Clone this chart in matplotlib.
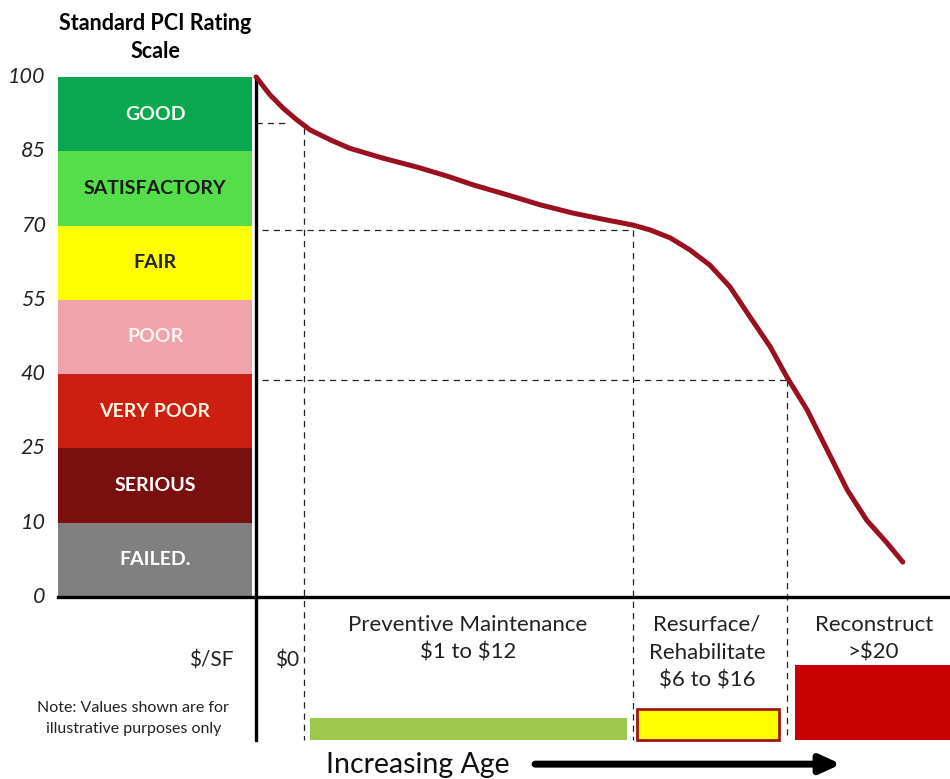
import numpy as np
import matplotlib
matplotlib.use("Agg")
import matplotlib.pyplot as plt

plt.rcParams['font.family'] = ['Lato', 'DejaVu Sans']
plt.rcParams['text.parse_math'] = False

# PCI rating bands (bottom to top)
band_labels = ["FAILED.", "SERIOUS", "VERY POOR", "POOR", "FAIR", "SATISFACTORY", "GOOD"]
band_colors = ["#808080", "#7a0f10", "#cc1f12", "#f0a3aa", "#ffff00", "#55dd4c", "#0aa751"]
band_text_colors = ["white", "white", "#fff5e0", "#fff4f4", "#222222", "#1a1a1a", "#f4fff4"]
pci_ticks = [0, 10, 25, 40, 55, 70, 85, 100]

# deterioration curve: age (relative units) vs PCI
age = [0, 2.0, 3.9, 5.9, 7.8, 10.7, 13.5, 18.3, 23.2, 27.5, 31.3, 36.2, 40.9,
       45.7, 50.6, 54.3, 56.8, 59.7, 62.5, 65.4, 68.3, 71.2, 74.1, 76.5, 79.4,
       82.3, 85.2, 88.0, 90.9, 93.2]
pci = [100, 96.4, 93.7, 91.3, 89.3, 87.3, 85.6, 83.6, 81.8, 80.0, 78.2, 76.2,
       74.2, 72.5, 71.1, 70.1, 69.1, 67.5, 65.1, 62.0, 57.6, 51.5, 45.5, 39.4,
       32.8, 24.7, 16.6, 10.5, 7.3, 4.7]

# treatment windows
break_age = [6.9, 54.3, 76.5]
break_pci = [90.7, 69.1, 38.8]
break_pci_vert = [89.7, 69.1, 38.8]
hline_end = [4.2, 54.3, 76.5]

stage_labels = ["Preventive Maintenance\n$1 to $12",
                "Resurface/\nRehabilitate\n$6 to $16",
                "Reconstruct\n>$20"]
stage_left = [7.8, 54.9, 77.7]
stage_right = [53.5, 75.4, 100]
stage_cost_height = [0.296, 0.417, 1.01]
stage_fill = ["#9dc84c", "#ffff00", "#c90000"]
stage_edge = ["#9dc84c", "#a01818", "#c90000"]


def to_band(v):
    # the bands are drawn the same height, so the PCI scale is piecewise
    return np.interp(v, pci_ticks, np.arange(len(pci_ticks)))


fig = plt.figure(figsize=(9.5, 7.79), dpi=100)
ax = fig.add_axes([0, 0, 1, 1])
ax.set_xlim(-36.9, 100)
ax.set_ylim(-2.45, 8.036)
ax.axis("off")

# rating scale bars
ax.bar([-14.55] * len(band_labels), [1] * len(band_labels), width=27.9,
       bottom=np.arange(len(band_labels)), color=band_colors, zorder=1)
for i, (lab, tc) in enumerate(zip(band_labels, band_text_colors)):
    ax.text(-14.55, i + 0.5, lab, ha="center", va="center", color=tc,
            fontsize=14, fontweight="bold")
for i, t in enumerate(pci_ticks):
    ax.text(-30.3, i, str(t), ha="right", va="center", fontsize=15.5,
            style="italic", color="#222222")
ax.text(-14.55, 7.53, "Standard PCI Rating\nScale", ha="center", va="center",
        fontsize=15.5, fontweight="bold", linespacing=1.44)

# axes lines
ax.plot([0, 0], [7, -1.925], color="black", lw=2.4, zorder=4)
ax.plot([-28.5, 100], [0, 0], color="black", lw=2.4, zorder=4)

# dashed guide lines
for i in range(3):
    x0 = 0.9 if i else 0
    ax.plot([x0, hline_end[i]], [to_band(break_pci[i])] * 2, color="#222222",
            lw=0.9, ls=(0, (5, 4)), zorder=2)
    ax.plot([break_age[i]] * 2, [to_band(break_pci_vert[i]), -1.925],
            color="#222222", lw=0.9, ls=(0, (5, 4)), zorder=2)

# curve
ax.plot(age, to_band(pci), color="#9b1020", lw=3.6, solid_capstyle="round",
        solid_joinstyle="round", zorder=5)

# cost bars
for l, r, h, fc, ec in zip(stage_left, stage_right, stage_cost_height,
                           stage_fill, stage_edge):
    ax.bar((l + r) / 2, h, width=r - l, bottom=-1.925, color=fc,
           edgecolor=ec, linewidth=2 if ec != fc else 0, zorder=3)

label_x = [30.5, 65.0, 89.0]
for x, lab in zip(label_x, stage_labels):
    ax.text(x, -0.24, lab, ha="center", va="top", fontsize=16,
            color="#222222", linespacing=1.5, zorder=6)

ax.text(-3.3, -0.85, "$/SF", ha="right", va="center", fontsize=15, color="#222222")
ax.text(4.5, -0.85, "$0", ha="center", va="center", fontsize=15, color="#222222")
ax.text(-17.7, -1.636, "Note: Values shown are for\nillustrative purposes only",
        ha="center", va="center", fontsize=11.5, color="#222222", linespacing=1.6)

ax.text(23.3, -2.26, "Increasing Age", ha="center", va="center", fontsize=20.5,
        color="#111111")
ax.annotate("", xy=(84.3, -2.25), xytext=(40.2, -2.25),
            arrowprops=dict(arrowstyle="-|>,head_length=1.2,head_width=0.55",
                            lw=5, color="black", shrinkA=0, shrinkB=0))

fig.savefig("out.png", dpi=100)
